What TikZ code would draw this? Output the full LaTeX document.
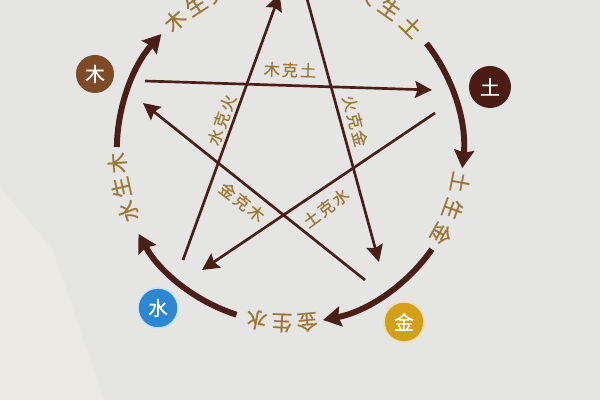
\documentclass[tikz,border=0pt]{standalone}
\usepackage{fontspec}
\newfontfamily\cjk[FakeBold=0.6]{Noto Sans CJK SC}
\newfontfamily\cjkwide[LetterSpace=12,FakeBold=0.5]{Noto Sans CJK SC}
\usetikzlibrary{arrows.meta}
\definecolor{zong}{RGB}{75,30,22}
\definecolor{jinse}{RGB}{160,118,52}
\definecolor{mucol}{RGB}{125,75,37}
\definecolor{tucol}{RGB}{74,28,20}
\definecolor{jincol}{RGB}{212,160,26}
\definecolor{shuicol}{RGB}{43,135,210}
\definecolor{paper}{RGB}{229,229,227}
\definecolor{paperlight}{RGB}{234,233,227}

\begin{document}
\begin{tikzpicture}[
    ke/.style={color=zong, line width=1.9pt, -{Stealth[length=0.42cm,width=0.42cm,inset=0.06cm]}},
    sheng/.style={color=zong, line width=4.2pt, -{Stealth[length=0.45cm,width=0.5cm,inset=0.06cm]}},
    kelabel/.style={color=jinse, font=\cjkwide\fontsize{11.5}{12}\selectfont},
    ringchar/.style={color=jinse, font=\cjk\fontsize{15}{15}\selectfont},
    element/.style={circle, minimum size=1cm, inner sep=0pt, text=white, font=\cjk\fontsize{14}{14}\selectfont}
]
    \useasboundingbox (0,0) rectangle (15,10);
    \clip (0,0) rectangle (15,10);
    \fill[paper] (0,0) rectangle (15,10);
    \fill[paperlight] (0,5.3) -- (1.3,3.8) -- (2.6,0) -- (0,0) -- cycle;

    \begin{scope}[shift={(7.25,6.25)}]
    % ends of the star, near each element
    \coordinate (shui-out) at (-2.675,-2.75);
    \coordinate (shui-in) at (-2.2,-3.0);
    \coordinate (huo-in) at (-0.26,3.9);
    \coordinate (huo-out) at (0.4,3.875);
    \coordinate (jin-in) at (2.225,-2.8);
    \coordinate (jin-out) at (1.875,-3.25);
    \coordinate (mu-in) at (-3.675,1.175);
    \coordinate (mu-out) at (-3.625,1.725);
    \coordinate (tu-in) at (3.55,1.5);
    \coordinate (tu-out) at (3.625,0.925);

    % ke: the star
    \draw[ke] (shui-out) -- (huo-in);
    \draw[ke] (huo-out) -- (jin-in);
    \draw[ke] (mu-out) -- (tu-in);
    \draw[ke] (tu-out) -- (shui-in);
    \draw[ke] (jin-out) -- (mu-in);

    \node[kelabel, rotate=-2] (muke) at (0,2.0) {木克土};
    \node[kelabel, rotate=70] (shuike) at (-1.71,0.75) {水克火};
    \node[kelabel, rotate=-75] (huoke) at (1.625,0.725) {火克金};
    \node[kelabel, rotate=-38] (jinke) at (-1.2,-1.3) {金克木};
    \node[kelabel, rotate=37] (tuke) at (0.9,-1.45) {土克水};

    % sheng: the ring
    \draw[sheng] (179:4.33) arc (179:138:4.33);
    \draw[sheng] (38:4.33) arc (38:-6:4.33);
    \draw[sheng] (-35:4.33) arc (-35:-79:4.33);
    \draw[sheng] (-108:4.33) arc (-108:-151:4.33);

    \foreach \ch/\ang [count=\i] in {木/131.6, 生/123, 火/114.5, 火/64, 生/54.8, 土/45.5,
            土/-10.8, 生/-20, 金/-29, 金/-84.3, 生/-92.7, 水/-101.2, 水/200.8, 生/192.5, 木/184.3}
        \node[ringchar, rotate=\ang-90] (ring\i) at (\ang:4.33) {\ch};

    % the elements
    \node[element, fill=mucol, minimum size=0.95cm] (mu) at (-4.875,1.9) {木};
    \node[element, fill=tucol, minimum size=1.05cm] (tu) at (5.0,1.575) {土};
    \node[element, fill=jincol, draw=jincol!35!white, line width=1pt] (jin) at (2.85,-4.3) {金};
    \node[element, fill=shuicol, draw=shuicol!25!white, line width=1pt] (shui) at (-3.3,-3.95) {水};
    \end{scope}
\end{tikzpicture}
\end{document}
